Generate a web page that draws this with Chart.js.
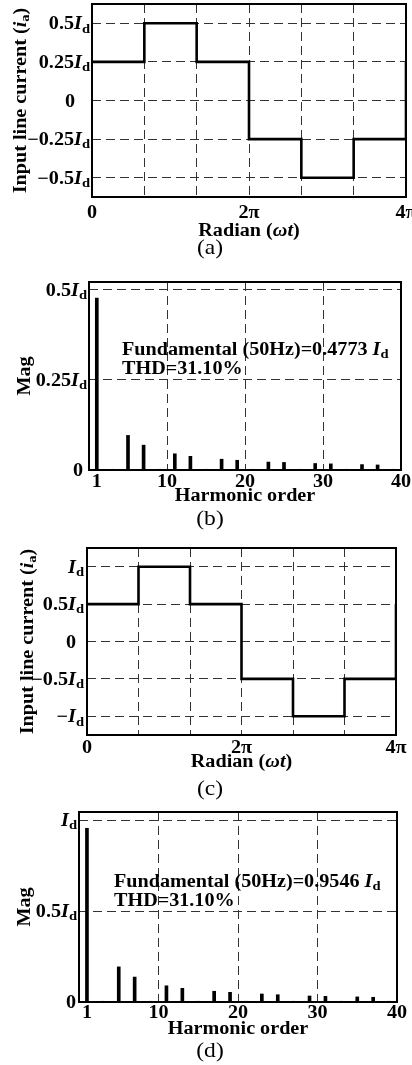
<!DOCTYPE html>
<html>
<head>
<meta charset="utf-8">
<script src="https://cdn.jsdelivr.net/npm/chart.js@4.4.1/dist/chart.umd.min.js"></script>
<style>
  html, body { margin: 0; padding: 0; background: #fff; }
  #page { position: relative; width: 412px; height: 1065px; overflow: hidden; }
  #page canvas { position: absolute; left: 0; }
</style>
</head>
<body>
<div id="page">
  <canvas id="chartA" width="412" height="270" style="top:0px"></canvas>
  <canvas id="chartB" width="412" height="275" style="top:270px"></canvas>
  <canvas id="chartC" width="412" height="290" style="top:520px"></canvas>
  <canvas id="chartD" width="412" height="275" style="top:790px"></canvas>
</div>
<script>
// ---- data ----
// waveform break points, omega*t in units of pi
const phaseBreaks = [0, 2 / 3, 4 / 3, 2, 8 / 3, 10 / 3, 4];
const phaseGrid = [0, 2 / 3, 4 / 3, 2, 8 / 3, 10 / 3, 4];
const phaseTicks = [0, 2, 4];
const phaseTickLabels = ['0', '2π', '4π'];

// input line current levels (x Id)
const currentA = [0.25, 0.5, 0.25, -0.25, -0.5, -0.25, 0.25];
const currentC = [0.5, 1, 0.5, -0.5, -1, -0.5, 0.5];

const currentTicksA = [-0.5, -0.25, 0, 0.25, 0.5];
const currentTickCoefA = ['−0.5', '−0.25', '0', '0.25', '0.5'];
const currentTicksC = [-1, -0.5, 0, 0.5, 1];
const currentTickCoefC = ['−', '−0.5', '0', '0.5', ''];

// harmonic spectrum (x Id)
const harmonicOrders = [1, 3, 5, 7, 9, 11, 13, 15, 17, 19, 21, 23, 25, 27, 29, 31, 33, 35, 37, 39];
const magB = [0.4773, 0.002, 0.096, 0.069, 0.002, 0.045, 0.038, 0.002, 0.030, 0.027,
              0.002, 0.022, 0.021, 0.002, 0.018, 0.017, 0.002, 0.015, 0.014, 0.002];
const magD = [0.9546, 0.004, 0.193, 0.137, 0.004, 0.089, 0.075, 0.004, 0.059, 0.053,
              0.004, 0.044, 0.040, 0.004, 0.033, 0.031, 0.004, 0.028, 0.026, 0.004];
const orderTicks = [1, 10, 20, 30, 40];
const orderGrid = [10, 20, 30];

const magTicksB = [0, 0.25, 0.5];
const magTickCoefB = ['0', '0.25', '0.5'];
const magTicksD = [0, 0.5, 1];
const magTickCoefD = ['0', '0.5', ''];

const fundamentalB = '0.4773';
const fundamentalD = '0.9546';
const thd = '31.10%';

// ---- text helpers ----
const FONT = '"Liberation Serif", "Times New Roman", serif';
const SX = 1.12;

function setFont(ctx, size, italic, bold) {
  ctx.font = (italic ? 'italic ' : '') + (bold ? 'bold ' : '') + size + 'px ' + FONT;
}

// parts: [text, style]  style: '' normal, 'i' italic, 's' subscript
function drawRich(ctx, parts, x, y, align, size, bold = true) {
  const sub = Math.round(size * 0.72);
  const measure = p => {
    setFont(ctx, p[1] === 's' ? sub : size, p[1] === 'i', bold);
    return ctx.measureText(p[0]).width;
  };
  ctx.save();
  ctx.translate(x, y);
  ctx.scale(SX, 1);
  ctx.textAlign = 'left';
  ctx.textBaseline = 'alphabetic';
  const w = parts.reduce((s, p) => s + measure(p), 0);
  let cx = align === 'right' ? -w : align === 'center' ? -w / 2 : 0;
  const base = size * 0.34;
  for (const p of parts) {
    const pw = measure(p);
    ctx.fillText(p[0], cx, base + (p[1] === 's' ? size * 0.18 : 0));
    cx += pw;
  }
  ctx.restore();
}

const unitId = [['I', 'i'], ['d', 's']];

const textLayer = {
  id: 'textLayer',
  afterDraw(chart, args, o) {
    const { ctx, chartArea: a, scales: { x, y } } = chart;
    ctx.save();
    ctx.fillStyle = '#000';
    ctx.strokeStyle = '#000';
    ctx.lineWidth = 2;
    ctx.strokeRect(a.left, a.top, a.right - a.left, a.bottom - a.top);

    o.yValues.forEach((v, i) => {
      const py = y.getPixelForValue(v);
      const coef = o.yCoefs[i];
      if (coef === '0') {
        drawRich(ctx, [['0', '']], o.zeroRight, py, 'right', 18);
      } else {
        drawRich(ctx, [[coef, '']].concat(unitId), a.left - o.labelGap, py, 'right', 18);
      }
    });

    o.xValues.forEach((v, i) => {
      drawRich(ctx, [[o.xLabels[i], '']], x.getPixelForValue(v), a.bottom + o.xLabelGap, 'center', 18);
    });

    drawRich(ctx, o.xTitle, (a.left + a.right) / 2, a.bottom + o.xTitleGap, 'center', 18);

    ctx.save();
    ctx.translate(o.yTitleX, (a.top + a.bottom) / 2);
    ctx.rotate(-Math.PI / 2);
    drawRich(ctx, o.yTitle, 0, 0, 'center', 18);
    ctx.restore();

    (o.notes || []).forEach(n => drawRich(ctx, n.parts, n.x, n.y, 'left', 18));

    drawRich(ctx, [[o.caption, '']], 210, o.captionY, 'center', 21, false);
    ctx.restore();
  }
};

function gridScale(frame, h, axis, extra) {
  const s = {
    grid: { color: '#333', lineWidth: 1, drawTicks: false },
    border: { display: false, dash: [9, 5] },
    ticks: { display: false }
  };
  if (axis === 'x') {
    s.afterFit = sc => { sc.height = h - frame.bottom; };
  } else {
    s.afterFit = sc => { sc.width = frame.left; };
  }
  return Object.assign(s, extra);
}

function baseOptions(frame, w, h, xScale, yScale, text) {
  return {
    responsive: false,
    animation: false,
    devicePixelRatio: 1,
    layout: { padding: { top: frame.top, right: w - frame.right, left: 0, bottom: 0 } },
    scales: { x: gridScale(frame, h, 'x', xScale), y: gridScale(frame, h, 'y', yScale) },
    plugins: { legend: { display: false }, tooltip: { enabled: false }, textLayer: text }
  };
}

function waveChart(id, levels, yMax, yTicks, yCoefs, frame, text) {
  const cv = document.getElementById(id);
  new Chart(cv, {
    type: 'line',
    data: {
      datasets: [{
        data: phaseBreaks.map((p, i) => ({ x: p, y: levels[i] })),
        stepped: 'before',
        borderColor: '#000',
        borderWidth: 2.6,
        pointRadius: 0,
        fill: false
      }]
    },
    options: baseOptions(frame, cv.width, cv.height,
      { type: 'linear', min: 0, max: 4,
        afterBuildTicks: sc => { sc.ticks = phaseGrid.map(v => ({ value: v })); } },
      { type: 'linear', min: -yMax, max: yMax,
        afterBuildTicks: sc => { sc.ticks = yTicks.map(v => ({ value: v })); } },
      Object.assign({
        yValues: yTicks, yCoefs: yCoefs,
        xValues: phaseTicks, xLabels: phaseTickLabels,
        xTitle: [['Radian (', ''], ['ωt', 'i'], [')', '']],
        yTitle: [['Input line current (', ''], ['i', 'i'], ['a', 's'], [')', '']]
      }, text)),
    plugins: [textLayer]
  });
}

function spectrumChart(id, mags, yMax, yTicks, yCoefs, frame, text) {
  const cv = document.getElementById(id);
  new Chart(cv, {
    type: 'bar',
    data: {
      datasets: [{
        data: harmonicOrders.map((n, i) => ({ x: n, y: mags[i] })),
        backgroundColor: '#000',
        barThickness: 3,
        borderWidth: 0
      }]
    },
    options: baseOptions(frame, cv.width, cv.height,
      { type: 'linear', min: 0, max: 40, offset: false,
        grid: { color: '#333', lineWidth: 1, drawTicks: false, offset: false },
        afterBuildTicks: sc => { sc.ticks = orderGrid.map(v => ({ value: v })); } },
      { type: 'linear', min: 0, max: yMax,
        afterBuildTicks: sc => { sc.ticks = yTicks.map(v => ({ value: v })); } },
      Object.assign({
        yValues: yTicks, yCoefs: yCoefs,
        xValues: orderTicks, xLabels: orderTicks.map(String),
        xTitle: [['Harmonic order', '']],
        yTitle: [['Mag', '']]
      }, text)),
    plugins: [textLayer]
  });
}

waveChart('chartA', currentA, 0.625, currentTicksA, currentTickCoefA,
  { left: 92, top: 4, right: 406, bottom: 197 },
  { labelGap: 2, zeroRight: 75, xLabelGap: 15, xTitleGap: 33, yTitleX: 20, caption: '(a)', captionY: 247 });

spectrumChart('chartB', magB, 0.522, magTicksB, magTickCoefB,
  { left: 89, top: 12, right: 401, bottom: 200 },
  { labelGap: 2, zeroRight: 83, xLabelGap: 11, xTitleGap: 25, yTitleX: 24, caption: '(b)', captionY: 248,
    notes: [
      { parts: [['Fundamental (50Hz)=' + fundamentalB + ' ', '']].concat(unitId), x: 122, y: 79 },
      { parts: [['THD=' + thd, '']], x: 122, y: 98 }
    ] });

waveChart('chartC', currentC, 1.25, currentTicksC, currentTickCoefC,
  { left: 87, top: 28, right: 396, bottom: 215 },
  { labelGap: 3, zeroRight: 76, xLabelGap: 12, xTitleGap: 26, yTitleX: 27, caption: '(c)', captionY: 268 });

spectrumChart('chartD', magD, 1.044, magTicksD, magTickCoefD,
  { left: 79, top: 22, right: 397, bottom: 212 },
  { labelGap: 2, zeroRight: 76, xLabelGap: 10, xTitleGap: 26, yTitleX: 24, caption: '(d)', captionY: 260,
    notes: [
      { parts: [['Fundamental (50Hz)=' + fundamentalD + ' ', '']].concat(unitId), x: 114, y: 91 },
      { parts: [['THD=' + thd, '']], x: 114, y: 110 }
    ] });
</script>
</body>
</html>
